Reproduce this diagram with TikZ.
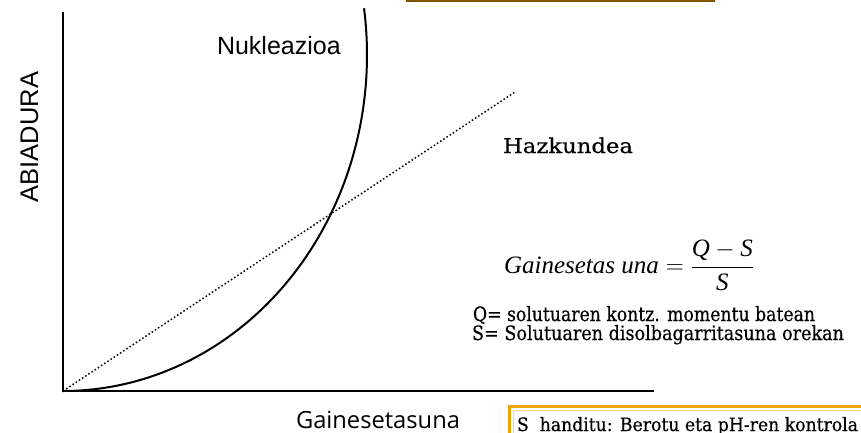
\documentclass[tikz,border=0pt]{standalone}
\usepackage{graphicx}
\usepackage{fontspec}
\setmainfont{Liberation Serif}
\newfontfamily\arialf{Liberation Sans}
\newfontfamily\serifb[FakeBold=0.5]{DejaVu Serif}
\newfontfamily\humsans{Open Sans}
\definecolor{barbrown}{RGB}{128,86,0}
\definecolor{boxorange}{RGB}{240,165,0}
\definecolor{boxlight}{RGB}{248,214,140}
\tikzset{
  axisline/.style={line width=2pt, line cap=rect},
  nuclcurve/.style={line width=2pt},
  growline/.style={line width=1.5pt, dash pattern=on 1.5pt off 2.3pt},
  lbl/.style={inner sep=0pt, outer sep=0pt, anchor=base west},
}
\begin{document}
\begin{tikzpicture}[x=1pt,y=-1pt]
\useasboundingbox (0,0) rectangle (861,432);
\clip (0,0) rectangle (861,432);
% top bar (cut-off frame)
\fill[barbrown] (406,-1) rectangle (715,2.2);
% axes
\coordinate (O) at (63,391);
\coordinate (ytop) at (63,13);
\coordinate (xend) at (653,391);
\coordinate (gend) at (515,92);
\draw[axisline] (ytop) -- (O) -- (xend);
% growth (dotted)
\draw[growline] (O) -- (gend);
% nucleation curve
\draw[nuclcurve] plot[domain=-90:8, samples=150, smooth] ({63+304*cos(\x)},{55-336*sin(\x)});
% labels
\node[inner sep=0pt, rotate=90, anchor=base] (yl) at (38,137) {\arialf\fontsize{25.5}{30}\selectfont ABIADURA};
\node[lbl] (nuk) at (217,54) {\arialf\fontsize{25}{30}\selectfont Nukleazioa};
\node[lbl] (haz) at (503,153) {\resizebox{130pt}{15.5pt}{\serifb\fontsize{21}{25}\selectfont Hazkundea}};
\node[lbl] (form) at (504,273) {\fontsize{25}{30}\selectfont $\displaystyle\hbox{\itshape Gainesetas una} = \frac{\hbox{\itshape Q}\mathbin{-}\hbox{\itshape S}}{\hbox{\itshape S}}$};
\node[lbl] (qdef) at (473,321) {\resizebox{342pt}{15pt}{\serifb\fontsize{16}{20}\selectfont Q= solutuaren kontz. momentu batean}};
\node[lbl] (sdef) at (472,340) {\resizebox{372pt}{15pt}{\serifb\fontsize{16}{20}\selectfont S= Solutuaren disolbagarritasuna orekan}};
\node[lbl] (xl) at (296,428) {\resizebox{164pt}{!}{\humsans\fontsize{22}{26}\selectfont Gainesetasuna}};
% bottom note box (cut off)
\draw[boxorange, line width=2.6pt] (509.5,406.5) rectangle (880,450);
\draw[boxlight, line width=1.2pt] (513.5,410.5) rectangle (880,450);
\node[lbl] (note) at (517,431) {\resizebox{341pt}{14pt}{\serifb\fontsize{15}{18}\selectfont S~~handitu: Berotu eta pH-ren kontrola}};
\end{tikzpicture}
\end{document}
